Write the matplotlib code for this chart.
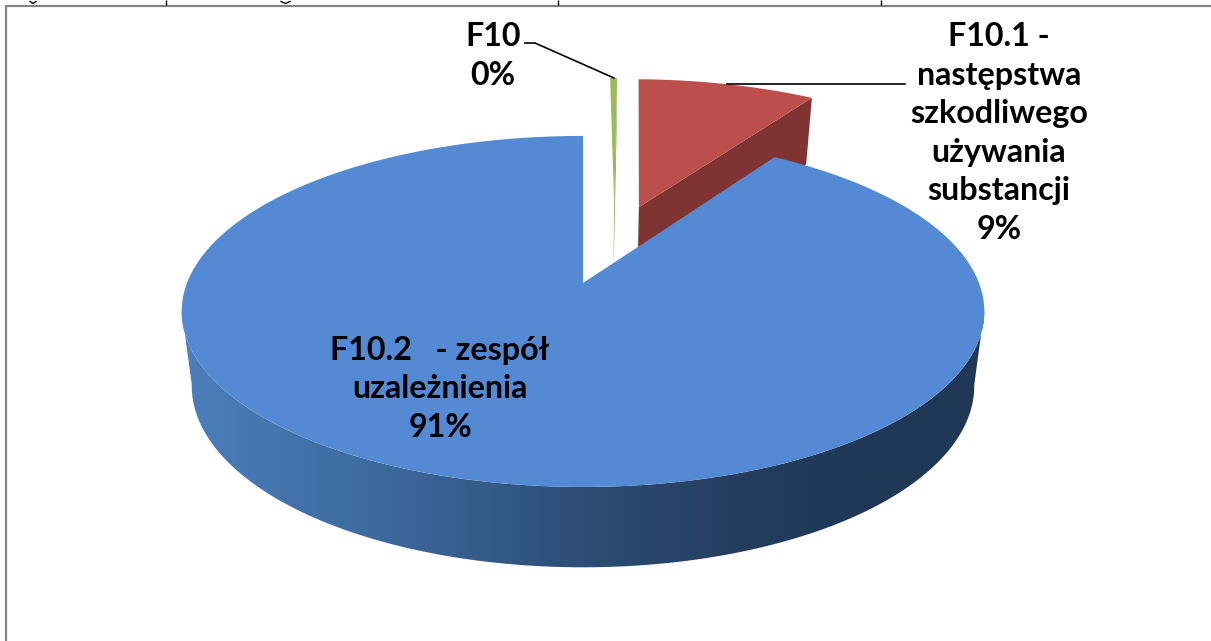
import numpy as np
from matplotlib import pyplot as plt
from matplotlib.colors import LinearSegmentedColormap
from matplotlib.patches import Polygon

# shares in percent, in the order they go round the pie from 12 o'clock
codes = ['F10', 'F10.1', 'F10.2']
shares = [0.35, 8.9, 90.75]
shown_pct = [0, 9, 91]
label_text = ['F10', 'F10.1 -\nnastępstwa\nszkodliwego\nużywania\nsubstancji', 'F10.2   - zespół\nuzależnienia']
face_colors = ['#9bbb59', '#bc4e4c', '#548ad3']
wall_colors = ['#76923c', '#7f3433', None]
# explosion of each slice on the pie plane (radius = 1)
explode = [(0.085, 0.489), (0.152, 0.478), (0.0, 0.0)]

# tails of the line above the chart, the rest of it is cropped away
tail_x = [166, 558, 881]
hook_x = [(30, 36), (281, 290)]

# pie projection, the picture is a 3d pie seen in perspective
CX, APEX_Y = 583, 283
A, B, K = 396, 170.9, 0.162
WALL_H, WALL_P, WALL_SHRINK = 73.3, 0.52, 0.975
# part of the rim where the outer wall faces the viewer
WALL_FROM, WALL_TO = 99, 261


def project(u, v):
    w = 1 + K * v
    return CX + A * np.asarray(u) / w, APEX_Y - B * np.asarray(v) / w


def drop(x, y, v):
    # the same point on the underside of the pie
    h = WALL_H / (1 + K * np.asarray(v)) ** WALL_P
    return CX + (x - CX) * WALL_SHRINK, y + h


def slice_outline(start, end, shift):
    ang = np.radians(np.linspace(start, end, 300))
    u = np.sin(ang) + shift[0]
    v = np.cos(ang) + shift[1]
    return u, v


fig = plt.figure(figsize=(12.11, 6.41), dpi=100)
ax = fig.add_axes([0, 0, 1, 1])
plt.rcParams['font.family'] = ['Lato', 'DejaVu Sans']

edges = np.concatenate([[0], np.cumsum(shares)]) * 3.6

# exploded slices first, the big one covers the bottom of their walls
for i in [0, 1]:
    u, v = slice_outline(edges[i], edges[i + 1], explode[i])
    x, y = project(u, v)
    ax0, ay0 = project(explode[i][0], explode[i][1])
    bx, by = drop(x[-1], y[-1], v[-1])
    cx, cy = drop(ax0, ay0, explode[i][1])
    ax.fill([ax0, x[-1], bx, cx], [ay0, y[-1], by, cy], color=wall_colors[i], lw=0)
    ax.fill(np.r_[ax0, x], np.r_[ay0, y], color=face_colors[i], lw=0)

# big slice: wall with a left to right shade, then the top
u, v = slice_outline(WALL_FROM, WALL_TO, explode[2])
x, y = project(u, v)
bx, by = drop(x, y, v)
shade = LinearSegmentedColormap.from_list('wall', [(0, '#4c7fbb'), (0.27, '#3c6799'), (0.5, '#2c4d76'),
                                                   (0.68, '#253f60'), (0.85, '#203755'), (1, '#203755')])
img = ax.imshow(np.linspace(0, 1, 400)[None, :], extent=(180, 985, 600, 100), cmap=shade, aspect='auto')
clip = Polygon(np.c_[np.r_[x, bx[::-1]], np.r_[y, by[::-1]]], transform=ax.transData, fc='none', ec='none')
ax.add_patch(clip)
img.set_clip_path(clip)

u, v = slice_outline(edges[2], edges[3], explode[2])
x, y = project(u, v)
ax0, ay0 = project(0, 0)
ax.fill(np.r_[ax0, x], np.r_[ay0, y], color=face_colors[2], lw=0)

# leader lines
ax.plot([525, 535, 614], [43, 43, 78], color='black', lw=1.2)
ax.plot([727, 905], [84, 84], color='black', lw=1.2)

# labels
txt = dict(fontsize=23.2, fontweight='bold', ha='center', va='center', linespacing=1.4, color='black')
ax.text(493, 56, f'{label_text[0]}\n{shown_pct[0]}%', **txt)
ax.text(999, 133, f'{label_text[1]}\n{shown_pct[1]}%', **txt)
ax.text(440, 389, f'{label_text[2]}\n{shown_pct[2]}%', **txt)

# frame of the chart, cut off at the bottom and right
ax.plot([5.5, 5.5, 1211], [641, 5.5, 5.5], color='#858585', lw=1.6, solid_joinstyle='miter')
ax.vlines(tail_x, 0, 4.5, color='black', lw=1)
for x0, x1 in hook_x:
    ax.plot([x0, (x0 + x1) / 2, x1], [1.5, 3.5, 1.5], color='black', lw=1)

ax.set_xlim(0, 1211)
ax.set_ylim(641, 0)
ax.axis('off')
fig.savefig('out.png', dpi=100)
